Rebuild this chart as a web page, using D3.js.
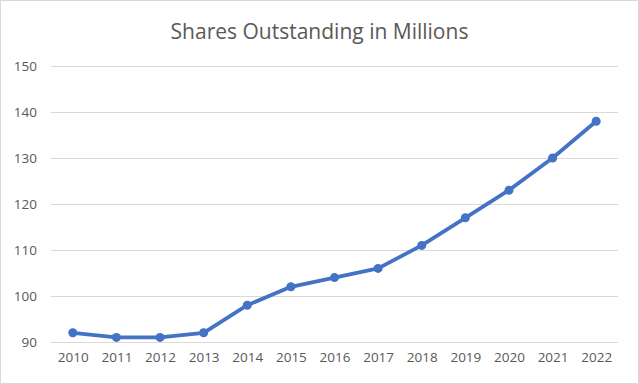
<!DOCTYPE html>
<html>
<head>
<meta charset="utf-8">
<title>Shares Outstanding</title>
<style>
  html, body { margin: 0; padding: 0; background: #fff; }
  svg { display: block; }
  .grid line { stroke: #d9d9d9; stroke-width: 1; }
  .axis text { fill: #595959; font-family: "Open Sans", "Noto Sans", sans-serif; font-size: 13.5px; }
</style>
</head>
<body>
<svg id="chart"></svg>
<script src="https://d3js.org/d3.v7.min.js"></script>
<script>
// data
const years = ["2010","2011","2012","2013","2014","2015","2016","2017","2018","2019","2020","2021","2022"];
const shares = [92, 91, 91, 92, 98, 102, 104, 106, 111, 117, 123, 130, 138];
const yTicks = [90, 100, 110, 120, 130, 140, 150];
const title = "Shares Outstanding in Millions";

const width = 639, height = 384;
const margin = { top: 66, right: 21, bottom: 42, left: 51 };

const svg = d3.select('#chart')
    .attr('width', width)
    .attr('height', height);

// outer border like the excel chart area
svg.append('rect')
    .attr('x', 0.5).attr('y', 0.5)
    .attr('width', width - 1).attr('height', height - 1)
    .attr('fill', '#fff')
    .attr('stroke', '#d9d9d9');

const x = d3.scalePoint()
    .domain(years)
    .range([margin.left, width - margin.right])
    .padding(0.5);

const y = d3.scaleLinear()
    .domain([90, 150])
    .range([height - margin.bottom, margin.top]);

// gridlines
svg.append('g')
    .attr('class', 'grid')
    .selectAll('line')
    .data(yTicks)
    .join('line')
    .attr('x1', margin.left)
    .attr('x2', width - margin.right)
    .attr('y1', d => Math.round(y(d)) + 0.5)
    .attr('y2', d => Math.round(y(d)) + 0.5);

// y axis labels
const yAxis = svg.append('g')
    .attr('class', 'axis')
    .attr('transform', `translate(${margin.left - 14},0)`)
    .call(d3.axisLeft(y).tickValues(yTicks).tickSize(0).tickPadding(0));
yAxis.select('.domain').remove();

// x axis labels
const xAxis = svg.append('g')
    .attr('class', 'axis')
    .attr('transform', `translate(0,${height - margin.bottom + 10})`)
    .call(d3.axisBottom(x).tickSize(0).tickPadding(0));
xAxis.select('.domain').remove();

// title
svg.append('text')
    .attr('x', width / 2)
    .attr('y', 39)
    .attr('text-anchor', 'middle')
    .style('font-family', '"Open Sans", "Noto Sans", sans-serif')
    .style('font-size', '21px')
    .style('fill', '#595959')
    .text(title);

const pts = years.map((yr, i) => ({ year: yr, value: shares[i] }));

const line = d3.line()
    .x(d => x(d.year))
    .y(d => y(d.value));

svg.append('path')
    .datum(pts)
    .attr('fill', 'none')
    .attr('stroke', '#4472c4')
    .attr('stroke-width', 3.75)
    .attr('stroke-linejoin', 'round')
    .attr('d', line);

svg.append('g')
    .selectAll('circle')
    .data(pts)
    .join('circle')
    .attr('cx', d => x(d.year))
    .attr('cy', d => y(d.value))
    .attr('r', 4.5)
    .attr('fill', '#4472c4');
</script>
</body>
</html>
